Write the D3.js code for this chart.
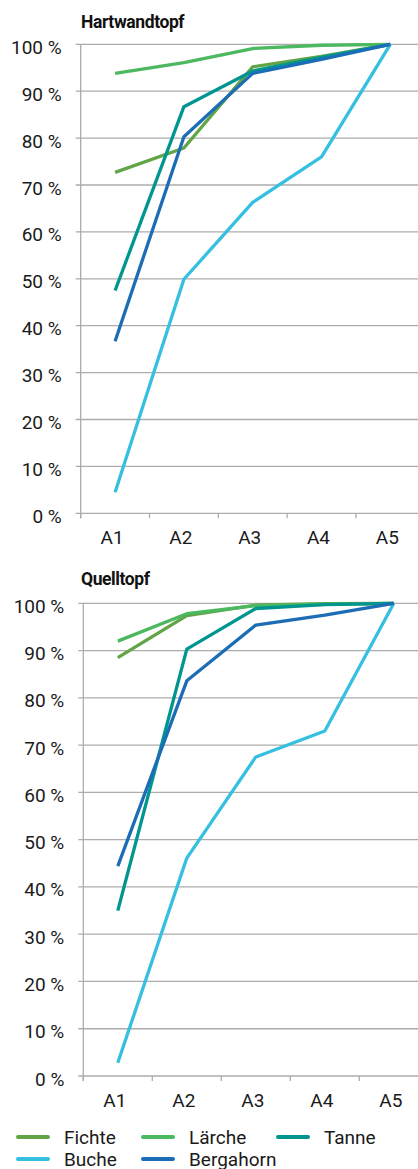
<!DOCTYPE html>
<html lang="de">
<head>
<meta charset="utf-8">
<script src="https://d3js.org/d3.v7.min.js"></script>
<style>
  body { margin: 0; background: #fff; }
  svg { display: block; font-family: Roboto, "Liberation Sans", sans-serif; }
</style>
</head>
<body>
<div id="graph"></div>
<script>
// categories and ticks
var stages = ["A1", "A2", "A3", "A4", "A5"];
var yTicks = [0, 10, 20, 30, 40, 50, 60, 70, 80, 90, 100];
var species = ["Fichte", "Lärche", "Tanne", "Buche", "Bergahorn"];
var colors = ["#62a546", "#4cb85f", "#00968f", "#35bfe0", "#1c6db6"];

// Hartwandtopf (%)
var hartFichte    = [72.7, 77.9, 95.2, 97.4, 100];
var hartLaerche   = [93.8, 96.1, 99.1, 99.8, 100];
var hartTanne     = [47.5, 86.7, 94.3, 97.2, 100];
var hartBuche     = [4.5, 49.9, 66.3, 76.0, 100];
var hartBergahorn = [36.7, 80.3, 93.8, 96.8, 100];

// Quelltopf (%)
var quellFichte    = [88.5, 97.4, 99.6, 99.9, 100];
var quellLaerche   = [92.0, 97.8, 99.5, 99.8, 100];
var quellTanne     = [35.0, 90.3, 98.9, 99.7, 100];
var quellBuche     = [2.8, 46.1, 67.5, 73.0, 100];
var quellBergahorn = [44.4, 83.6, 95.4, 97.5, 100];

var W = 418, H = 1169;
var svg = d3.select("#graph").append("svg")
    .attr("width", W).attr("height", H);

function drawPanel(title, series, left, top, bottom, bandW, titleY) {
  var x = d3.scaleBand().domain(stages).range([left, left + bandW * stages.length]);
  var y = d3.scaleLinear().domain([0, 100]).range([bottom, top]);
  var g = svg.append("g");

  // title
  g.append("text")
    .attr("x", 81).attr("y", titleY)
    .attr("font-size", 17.5).attr("font-weight", "bold")
    .attr("letter-spacing", -0.4)
    .attr("fill", "#111")
    .text(title);

  // gridlines
  g.append("g").selectAll("line").data(yTicks).enter().append("line")
    .attr("x1", left - 5).attr("x2", W)
    .attr("y1", function (d) { return y(d); })
    .attr("y2", function (d) { return y(d); })
    .attr("stroke", "#acacac").attr("stroke-width", 1.3);

  // y labels
  g.append("g").selectAll("text").data(yTicks).enter().append("text")
    .attr("x", left - 19).attr("y", function (d) { return y(d) + 9.5; })
    .attr("text-anchor", "end").attr("font-size", 19).attr("fill", "#1a1a1a")
    .text(function (d) { return d + " %"; });

  // y axis line
  g.append("line")
    .attr("x1", left).attr("x2", left).attr("y1", top).attr("y2", bottom + 5)
    .attr("stroke", "#acacac").attr("stroke-width", 1.3);

  // x tick marks at band edges
  g.append("g").selectAll("line").data(stages).enter().append("line")
    .attr("x1", function (d) { return x(d); })
    .attr("x2", function (d) { return x(d); })
    .attr("y1", bottom).attr("y2", bottom + 5)
    .attr("stroke", "#acacac").attr("stroke-width", 1.3);

  // x labels
  g.append("g").selectAll("text").data(stages).enter().append("text")
    .attr("x", function (d) { return x(d) + x.bandwidth() / 2 - 3; })
    .attr("y", bottom + 31)
    .attr("text-anchor", "middle").attr("font-size", 19).attr("fill", "#1a1a1a")
    .text(function (d) { return d; });

  var line = d3.line()
    .x(function (d, i) { return x(stages[i]) + x.bandwidth() / 2; })
    .y(function (d) { return y(d); });

  series.forEach(function (s, i) {
    g.append("path")
      .datum(s)
      .attr("d", line)
      .attr("fill", "none")
      .attr("stroke", colors[i])
      .attr("stroke-width", 3.3)
      .attr("stroke-linejoin", "round");
  });
}

drawPanel("Hartwandtopf",
  [hartFichte, hartLaerche, hartTanne, hartBuche, hartBergahorn],
  80.7, 44.3, 513.3, 68.8, 28);

drawPanel("Quelltopf",
  [quellFichte, quellLaerche, quellTanne, quellBuche, quellBergahorn],
  83.3, 603.3, 1076, 69, 585);

// legend
var legendPos = [[18, 1137], [143, 1137], [278, 1137], [18, 1159], [143, 1159]];
var legend = svg.append("g").selectAll("g").data(species).enter().append("g")
  .attr("transform", function (d, i) { return "translate(" + legendPos[i][0] + "," + legendPos[i][1] + ")"; });
legend.append("line")
  .attr("x1", 0).attr("x2", 30).attr("y1", 0).attr("y2", 0)
  .attr("stroke", function (d, i) { return colors[i]; })
  .attr("stroke-width", 4).attr("stroke-linecap", "round");
legend.append("text")
  .attr("x", 46).attr("y", 6.5)
  .attr("font-size", 19).attr("fill", "#1a1a1a")
  .text(function (d) { return d; });
</script>
</body>
</html>
